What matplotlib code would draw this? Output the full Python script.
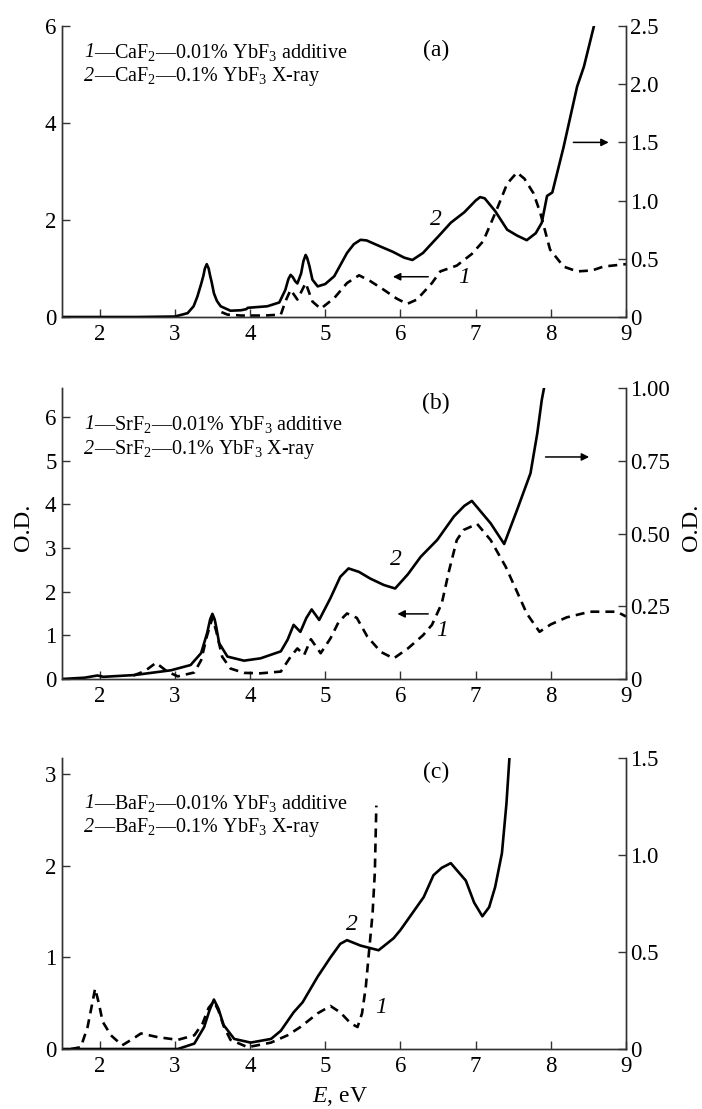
import matplotlib
matplotlib.use("Agg")
import matplotlib.pyplot as plt

plt.rcParams['font.family'] = ['Liberation Serif', 'DejaVu Serif']
plt.rcParams['mathtext.fontset'] = 'custom'
plt.rcParams['mathtext.rm'] = 'Liberation Serif'
plt.rcParams['mathtext.it'] = 'Liberation Serif:italic'

# ---------------- data ----------------
# Panel (a) CaF2  (curve 2 in right-axis units, curve 1 in left-axis units)
a_e2 = [1.5, 2.5, 3.0, 3.17, 3.25, 3.3, 3.35, 3.38, 3.40, 3.425, 3.45, 3.47, 3.49, 3.52, 3.56,
        3.61, 3.74, 3.88, 3.95, 3.97, 4.23, 4.39, 4.47, 4.51, 4.54, 4.57, 4.6, 4.63, 4.68, 4.71,
        4.74, 4.76, 4.79, 4.83, 4.9, 5.0, 5.12, 5.29, 5.38, 5.47, 5.55, 5.62, 5.74, 5.9, 6.05,
        6.16, 6.3, 6.4, 6.53, 6.67, 6.85, 7.0, 7.06, 7.12, 7.26, 7.42, 7.55, 7.68, 7.8, 7.88,
        7.95, 8.02, 8.17, 8.35, 8.44, 8.57]
a_v2 = [0.0, 0.0, 0.004, 0.033, 0.092, 0.175, 0.283, 0.354, 0.417, 0.454, 0.417, 0.354, 0.30, 0.204, 0.138,
        0.092, 0.054, 0.058, 0.067, 0.079, 0.092, 0.125, 0.233, 0.325, 0.362, 0.342, 0.308, 0.288, 0.375, 0.479,
        0.533, 0.508, 0.438, 0.321, 0.263, 0.283, 0.35, 0.55, 0.625, 0.663, 0.658, 0.638, 0.604, 0.56, 0.51,
        0.49, 0.55, 0.62, 0.71, 0.81, 0.9, 1.0, 1.03, 1.02, 0.91, 0.75, 0.70, 0.66, 0.72, 0.81,
        1.04, 1.07, 1.46, 1.98, 2.15, 2.49]
a_e1 = [3.62, 3.7, 3.88, 4.2, 4.41, 4.47, 4.54, 4.63, 4.74, 4.83, 4.94, 5.12, 5.29, 5.45, 5.6,
        5.78, 5.95, 6.09, 6.22, 6.42, 6.53, 6.75, 6.95, 7.1, 7.28, 7.42, 7.55, 7.65, 7.77, 7.86,
        7.99, 8.17, 8.35, 8.55, 8.7, 9.0]
a_v1 = [0.1, 0.05, 0.03, 0.03, 0.05, 0.32, 0.56, 0.36, 0.70, 0.32, 0.17, 0.39, 0.70, 0.86, 0.74,
        0.56, 0.38, 0.27, 0.36, 0.70, 0.94, 1.06, 1.3, 1.56, 2.21, 2.75, 2.98, 2.85, 2.55, 2.15,
        1.39, 1.04, 0.94, 0.96, 1.04, 1.09]

# Panel (b) SrF2
b_e2 = [1.5, 1.8, 1.97, 2.05, 2.46, 2.95, 3.21, 3.35, 3.43, 3.47, 3.5, 3.53, 3.55, 3.59, 3.7,
        3.92, 4.14, 4.41, 4.5, 4.58, 4.67, 4.75, 4.82, 4.92, 5.07, 5.2, 5.31, 5.45, 5.6, 5.78,
        5.93, 6.1, 6.27, 6.49, 6.71, 6.85, 6.95, 7.2, 7.38, 7.55, 7.73, 7.82, 7.88, 7.91]
b_v2 = [0.0, 0.0045, 0.012, 0.0075, 0.0135, 0.030, 0.048, 0.089, 0.158, 0.205, 0.224, 0.205, 0.18, 0.123, 0.077,
        0.063, 0.071, 0.095, 0.135, 0.186, 0.162, 0.21, 0.239, 0.203, 0.278, 0.351, 0.38, 0.368, 0.345, 0.323,
        0.311, 0.36, 0.42, 0.478, 0.558, 0.595, 0.612, 0.535, 0.464, 0.58, 0.707, 0.844, 0.959, 1.0]
b_e1 = [2.45, 2.6, 2.75, 2.9, 3.04, 3.26, 3.35, 3.43, 3.5, 3.55, 3.63, 3.74, 3.92, 4.14, 4.41,
        4.54, 4.63, 4.72, 4.81, 4.94, 5.07, 5.18, 5.29, 5.42, 5.56, 5.74, 5.91, 6.1, 6.3, 6.42,
        6.55, 6.65, 6.75, 6.84, 7.02, 7.2, 7.4, 7.55, 7.68, 7.85, 8.0, 8.21, 8.52, 8.88, 9.0]
b_v1 = [0.08, 0.18, 0.37, 0.17, 0.06, 0.15, 0.43, 1.0, 1.4, 1.1, 0.51, 0.24, 0.14, 0.13, 0.17,
        0.51, 0.70, 0.55, 0.91, 0.59, 0.93, 1.31, 1.5, 1.4, 0.97, 0.62, 0.47, 0.7, 1.0, 1.24,
        1.73, 2.5, 3.18, 3.41, 3.55, 3.18, 2.57, 2.0, 1.5, 1.08, 1.25, 1.41, 1.54, 1.54, 1.43]

# Panel (c) BaF2
c_e2 = [1.5, 3.04, 3.26, 3.39, 3.46, 3.52, 3.58, 3.65, 3.79, 4.01, 4.28, 4.41, 4.58, 4.7, 4.9,
        5.07, 5.2, 5.29, 5.47, 5.71, 5.91, 6.0, 6.31, 6.44, 6.55, 6.67, 6.87, 6.98, 7.09, 7.18,
        7.26, 7.35, 7.41, 7.45]
c_v2 = [0.0, 0.0, 0.028, 0.113, 0.198, 0.255, 0.208, 0.123, 0.052, 0.033, 0.052, 0.094, 0.189, 0.241, 0.373,
        0.472, 0.542, 0.561, 0.533, 0.509, 0.571, 0.613, 0.783, 0.896, 0.934, 0.958, 0.868, 0.755, 0.684, 0.731,
        0.835, 1.009, 1.264, 1.5]
c_e1 = [1.62, 1.75, 1.84, 1.91, 1.94, 1.99, 2.04, 2.15, 2.3, 2.44, 2.55, 2.77, 3.04, 3.26, 3.37,
        3.45, 3.52, 3.58, 3.65, 3.74, 3.97, 4.28, 4.5, 4.67, 4.9, 5.07, 5.2, 5.34, 5.43, 5.49,
        5.54, 5.58, 5.63, 5.66, 5.68]
c_v1 = [0.0, 0.02, 0.24, 0.53, 0.66, 0.5, 0.3, 0.15, 0.04, 0.11, 0.17, 0.13, 0.1, 0.15, 0.28,
        0.45, 0.52, 0.42, 0.25, 0.1, 0.02, 0.07, 0.15, 0.24, 0.39, 0.47, 0.4, 0.28, 0.24, 0.39,
        0.68, 1.04, 1.48, 1.93, 2.66]

x_ticks = [2, 3, 4, 5, 6, 7, 8, 9]
a_lticks = [0, 2, 4, 6]
a_rticks = [0, 0.5, 1.0, 1.5, 2.0, 2.5]
a_rlabels = ["0", "0.5", "1.0", "1.5", "2.0", "2.5"]
b_lticks = [0, 1, 2, 3, 4, 5, 6]
b_rticks = [0, 0.25, 0.50, 0.75, 1.00]
b_rlabels = ["0", "0.25", "0.50", "0.75", "1.00"]
c_lticks = [0, 1, 2, 3]
c_rticks = [0, 0.5, 1.0, 1.5]
c_rlabels = ["0", "0.5", "1.0", "1.5"]

a_leg = ["—CaF$_2$—0.01% YbF$_3$ additive", "—CaF$_2$—0.1% YbF$_3$ X-ray"]
b_leg = ["—SrF$_2$—0.01% YbF$_3$ additive", "—SrF$_2$—0.1% YbF$_3$ X-ray"]
c_leg = ["—BaF$_2$—0.01% YbF$_3$ additive", "—BaF$_2$—0.1% YbF$_3$ X-ray"]
leg_nums = ["1", "2"]

# ---------------- figure ----------------
W, H = 702, 1109
fig = plt.figure(figsize=(W / 100, H / 100), dpi=100)

left = 62 / W
width = (626 - 62) / W
ph = 291 / H
bottoms = [1 - 317 / H, 1 - 679 / H, 1 - 1049 / H]

LW = 1.9
DASH = (0, (3.4, 2.3))
TICKFS = 16.5
LEGFS = 14.5
PANFS = 17
NUMFS = 17


def make_panel(bottom, lmax, rmax, lticks, rticks, rlabels):
    ax = fig.add_axes([left, bottom, width, ph])
    ax2 = ax.twinx()
    for a in (ax, ax2):
        a.spines['top'].set_visible(False)
        for s in ('left', 'right', 'bottom'):
            a.spines[s].set_linewidth(1.0)
            a.spines[s].set_color('#333333')
        a.tick_params(direction='in', length=6, width=1.0, color='#333333', labelsize=TICKFS)
    ax.set_xlim(1.5, 9)
    ax.set_ylim(0, lmax)
    ax2.set_ylim(0, rmax)
    ax.set_xticks(x_ticks)
    ax.set_xticklabels([str(t) for t in x_ticks])
    ax.set_yticks(lticks)
    ax.set_yticklabels([str(t) for t in lticks])
    ax2.set_yticks(rticks)
    ax2.set_yticklabels(rlabels)
    ax.tick_params(axis='y', pad=4)
    ax.tick_params(axis='x', pad=5)
    ax2.tick_params(axis='y', pad=3)
    return ax, ax2


def legend(ax, lines, y1, y2):
    for txt, num, y in zip(lines, leg_nums, (y1, y2)):
        ax.text(0.039, y, num, transform=ax.transAxes, fontsize=LEGFS, style='italic',
                va='center', ha='left')
        ax.annotate(txt, xy=(0.039, y), xycoords='axes fraction', xytext=(7.4, 0),
                    textcoords='offset points', fontsize=LEGFS, va='center', ha='left')


def arrow(ax, x0, x1, y):
    ax.annotate('', xy=(x1, y), xytext=(x0, y),
                arrowprops=dict(arrowstyle='-|>', color='black', lw=1.1,
                                mutation_scale=11, shrinkA=0, shrinkB=0))


# (a)
ax, ax2 = make_panel(bottoms[0], 6, 2.5, a_lticks, a_rticks, a_rlabels)
ax.plot(a_e1, a_v1, color='black', lw=LW, linestyle=DASH)
ax2.plot(a_e2, a_v2, color='black', lw=LW)
legend(ax, a_leg, 0.91, 0.828)
ax.text(0.663, 0.917, "(a)", transform=ax.transAxes, fontsize=PANFS, ha='center', va='center')
arrow(ax, 6.37, 5.9, 0.83)
arrow(ax2, 8.3, 8.77, 1.5)
ax2.text(6.47, 0.835, "2", fontsize=NUMFS, style='italic', ha='center', va='center')
ax.text(6.85, 0.81, "1", fontsize=NUMFS, style='italic', ha='center', va='center')

# (b)
ax, ax2 = make_panel(bottoms[1], 6.66, 1.0, b_lticks, b_rticks, b_rlabels)
ax.plot(b_e1, b_v1, color='black', lw=LW, linestyle=DASH)
ax2.plot(b_e2, b_v2, color='black', lw=LW)
legend(ax, b_leg, 0.873, 0.787)
ax.text(0.663, 0.948, "(b)", transform=ax.transAxes, fontsize=PANFS, ha='center', va='center')
arrow(ax, 6.37, 5.96, 1.49)
arrow(ax2, 7.93, 8.51, 0.763)
ax2.text(5.94, 0.41, "2", fontsize=NUMFS, style='italic', ha='center', va='center')
ax.text(6.56, 1.12, "1", fontsize=NUMFS, style='italic', ha='center', va='center')

# (c)
ax, ax2 = make_panel(bottoms[2], 3.18, 1.5, c_lticks, c_rticks, c_rlabels)
ax.plot(c_e1, c_v1, color='black', lw=LW, linestyle=DASH)
ax2.plot(c_e2, c_v2, color='black', lw=LW)
legend(ax, c_leg, 0.845, 0.76)
ax.text(0.663, 0.952, "(c)", transform=ax.transAxes, fontsize=PANFS, ha='center', va='center')
ax.text(5.36, 1.36, "2", fontsize=NUMFS, style='italic', ha='center', va='center')
ax.text(5.74, 0.45, "1", fontsize=NUMFS, style='italic', ha='center', va='center')

# axis labels
fig.text(23 / W, 1 - 527 / H, "O.D.", rotation=90, fontsize=17.5, ha='center', va='center')
fig.text(692 / W, 1 - 527 / H, "O.D.", rotation=90, fontsize=17.5, ha='center', va='center')
fig.text(340 / W, 1 - 1097 / H, r"$\mathit{E}$, eV", fontsize=17, ha='center', va='center')

fig.savefig("out.png", dpi=100)
